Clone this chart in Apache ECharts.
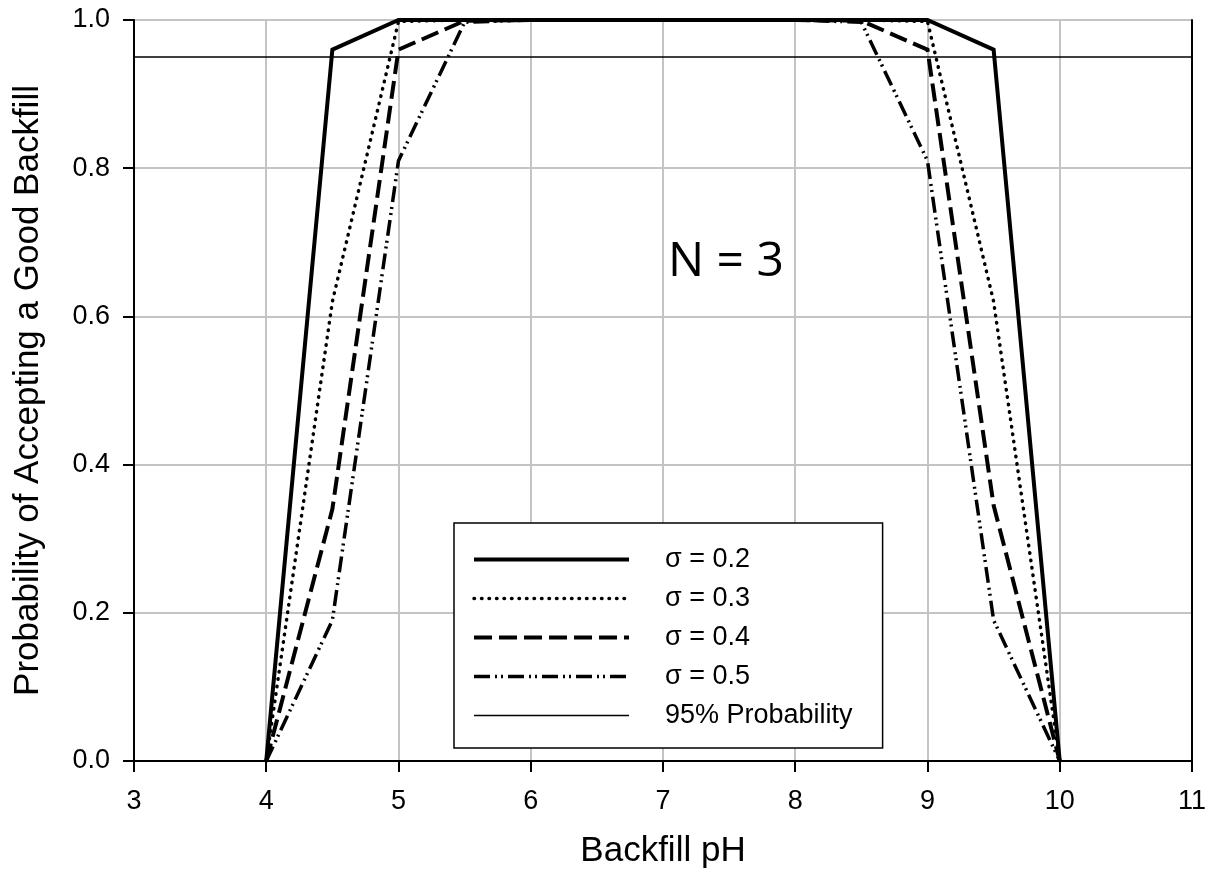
<!DOCTYPE html>
<html>
<head>
<meta charset="utf-8">
<script src="https://cdn.jsdelivr.net/npm/echarts@6/dist/echarts.min.js"></script>
<style>html,body{margin:0;padding:0;background:#fff}#c{width:1209px;height:879px}</style>
</head>
<body>
<div id="c"></div>
<script>
const pH = [4, 4.5, 5, 5.5, 6, 6.5, 7, 7.5, 8, 8.5, 9, 9.5, 10];
const sigma02 = [0, 0.96, 1.0, 1.0, 1.0, 1.0, 1.0, 1.0, 1.0, 1.0, 1.0, 0.96, 0];
const sigma03 = [0, 0.62, 0.998, 1.0, 1.0, 1.0, 1.0, 1.0, 1.0, 1.0, 0.998, 0.62, 0];
const sigma04 = [0, 0.34, 0.96, 0.999, 1.0, 1.0, 1.0, 1.0, 1.0, 0.999, 0.96, 0.345, 0];
const sigma05 = [0, 0.19, 0.81, 0.997, 1.0, 1.0, 1.0, 1.0, 1.0, 0.997, 0.81, 0.19, 0];
const probX = [3, 11];
const probY = [0.95, 0.95];
const seriesNames = ['σ = 0.2', 'σ = 0.3', 'σ = 0.4', 'σ = 0.5', '95% Probability'];
const xTicks = [3, 4, 5, 6, 7, 8, 9, 10, 11];
const yTicks = [0.0, 0.2, 0.4, 0.6, 0.8, 1.0];

const FONT = "'Liberation Sans', Arial, sans-serif";
const zip = (xs, ys) => xs.map((x, i) => [x, ys[i]]);

const chart = echarts.init(document.getElementById('c'), null, {renderer: 'canvas'});
const axisBase = {
  type: 'value',
  axisLine: {show: true, lineStyle: {color: '#000', width: 2}},
  axisTick: {show: true, inside: false, length: 11, lineStyle: {color: '#000', width: 2}},
  splitLine: {show: true, lineStyle: {color: '#c4c4c4', width: 2}},
  axisLabel: {color: '#000', fontFamily: FONT, fontSize: 27}
};
const frameAxis = {
  type: 'value',
  axisLine: {show: true, lineStyle: {color: '#000', width: 2}},
  axisTick: {show: false}, axisLabel: {show: false}, splitLine: {show: false}
};
const line = (name, data, width, type, z, cap) => ({
  name, type: 'line', data, symbol: 'none', showSymbol: false, z,
  lineStyle: {color: '#000', width, type, cap: cap || 'butt', join: 'miter'},
  itemStyle: {color: '#000'}
});

chart.setOption({
  animation: false,
  backgroundColor: '#fff',
  grid: {left: 134, right: 15, top: 20, bottom: 118, containLabel: false},
  xAxis: [
    Object.assign({}, axisBase, {
      min: xTicks[0], max: xTicks[xTicks.length - 1], interval: 1,
      name: 'Backfill pH', nameLocation: 'middle', nameGap: 73,
      nameTextStyle: {color: '#000', fontFamily: FONT, fontSize: 35},
      axisLabel: Object.assign({}, axisBase.axisLabel, {margin: 27})
    }),
    Object.assign({}, frameAxis, {position: 'top', min: 3, max: 11})
  ],
  yAxis: [
    Object.assign({}, axisBase, {
      min: yTicks[0], max: yTicks[yTicks.length - 1], interval: 0.2,
      name: 'Probability of Accepting a Good Backfill', nameLocation: 'middle', nameGap: 88,
      nameTextStyle: {color: '#000', fontFamily: FONT, fontSize: 35},
      axisLabel: Object.assign({}, axisBase.axisLabel, {margin: 24, formatter: v => v.toFixed(1)})
    }),
    Object.assign({}, frameAxis, {position: 'right', min: 0, max: 1})
  ],
  legend: {
    orient: 'vertical', left: 454, top: 523,
    data: seriesNames,
    itemWidth: 155, itemHeight: 14, itemGap: 12,
    padding: [23, 30, 19, 18],
    borderColor: '#000', borderWidth: 1.5, backgroundColor: '#fff',
    itemStyle: {color: 'rgba(0,0,0,0)', borderColor: 'rgba(0,0,0,0)', borderWidth: 0, opacity: 0},
    lineStyle: {width: 'inherit', type: 'inherit', color: 'inherit', cap: 'inherit'},
    textStyle: {color: '#000', fontFamily: FONT, fontSize: 27, padding: [0, 0, 0, 31]},
    selectedMode: false
  },
  graphic: [{
    type: 'text', left: 668, top: 238, z: 10,
    style: {text: 'N = 3', fill: '#000', font: "48px 'Open Sans', 'Liberation Sans', sans-serif"}
  }],
  series: [
    line(seriesNames[4], zip(probX, probY), 1.5, 'solid', 2),
    line(seriesNames[3], zip(pH, sigma05), 3.5, [16, 5, 2, 4, 2, 5], 3),
    line(seriesNames[2], zip(pH, sigma04), 4, [18, 7], 4),
    line(seriesNames[1], zip(pH, sigma03), 3.5, [0.5, 7], 5, 'round'),
    line(seriesNames[0], zip(pH, sigma02), 4, 'solid', 6)
  ]
});
</script>
</body>
</html>
